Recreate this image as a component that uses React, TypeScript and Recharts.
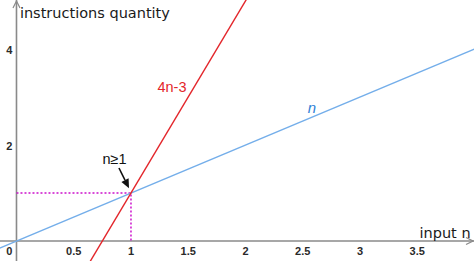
import {
  ComposedChart,
  Line,
  XAxis,
  YAxis,
  ReferenceLine,
  ReferenceDot
} from 'recharts';

document.body.style.margin = '0';

// end points (lines run past the plot edges and get clipped)
const identityPts = [
  { x: -0.2, y: -0.2 },
  { x: 4.1, y: 4.1 }
];
const fourNPts = [
  { x: 0.6, y: -0.6 },
  { x: 2.1, y: 5.4 }
];
const guidePts = [
  { x: 0, y: 1 },
  { x: 1, y: 1 },
  { x: 1, y: 0 }
];

const xTicks = [0.5, 1, 1.5, 2, 2.5, 3, 3.5];
const yTicks = [2, 4];

const AXIS = '#8a8a8a';
const RED = '#e3262b';
const BLUE = '#74aeea';
const MAGENTA = '#cc11cc';

const tickFont = { fontFamily: '"Liberation Sans", Arial, sans-serif', fontSize: 11, fontWeight: 700, fill: '#2a2a2a' };
const labelFont = { fontFamily: '"DejaVu Sans", sans-serif', fontSize: 14.5, fill: '#1a1a1a' };

function txt(text: string, style: any, dx: number, dy: number, anchor = 'middle') {
  return (p: any) => (
    <text
      x={p.cx + dx}
      y={p.cy + dy}
      textAnchor={anchor}
      dominantBaseline="central"
      style={style}
    >
      {text}
    </text>
  );
}

function axisArrow(vertical: boolean) {
  return (p: any) => {
    const { x1, y1, x2, y2 } = p;
    let tip, a, b;
    if (vertical) {
      const top = Math.min(y1, y2) + 1;
      tip = [x1, top];
      a = [x1 - 3.5, top + 7];
      b = [x1 + 3.5, top + 7];
    } else {
      const right = Math.max(x1, x2) - 1;
      tip = [right, y1];
      a = [right - 7, y1 - 3.5];
      b = [right - 7, y1 + 3.5];
    }
    return (
      <g>
        <line x1={x1} y1={y1} x2={x2} y2={y2} stroke={AXIS} strokeWidth={1.6} />
        <polyline
          points={`${a[0]},${a[1]} ${tip[0]},${tip[1]} ${b[0]},${b[1]}`}
          fill="none"
          stroke={AXIS}
          strokeWidth={1.2}
        />
      </g>
    );
  };
}

function pointer(p: any) {
  const { x1, y1, x2, y2 } = p;
  const ang = Math.atan2(y2 - y1, x2 - x1);
  const len = 9;
  const w = 4;
  const bx = x2 - len * Math.cos(ang);
  const by = y2 - len * Math.sin(ang);
  const px = -Math.sin(ang) * w;
  const py = Math.cos(ang) * w;
  return (
    <g>
      <line x1={x1} y1={y1} x2={bx} y2={by} stroke="#111" strokeWidth={1.6} />
      <polygon points={`${x2},${y2} ${bx + px},${by + py} ${bx - px},${by - py}`} fill="#111" />
    </g>
  );
}

export default function App() {
  return (
    <ComposedChart width={474} height={261} margin={{ top: 0, right: 0, bottom: 0, left: 0 }}>
      <XAxis type="number" dataKey="x" domain={[-0.144, 3.996]} allowDataOverflow hide />
      <YAxis type="number" dataKey="y" domain={[-0.417, 5.02]} allowDataOverflow hide />

      <ReferenceLine x={0} stroke={AXIS} shape={axisArrow(true)} />
      <ReferenceLine y={0} stroke={AXIS} shape={axisArrow(false)} />

      <Line
        data={guidePts}
        dataKey="y"
        type="linear"
        stroke={MAGENTA}
        strokeWidth={1.5}
        strokeDasharray="2 2"
        dot={false}
        isAnimationActive={false}
      />
      <Line
        data={identityPts}
        dataKey="y"
        type="linear"
        stroke={BLUE}
        strokeWidth={1.4}
        dot={false}
        isAnimationActive={false}
      />
      <Line
        data={fourNPts}
        dataKey="y"
        type="linear"
        stroke={RED}
        strokeWidth={1.4}
        dot={false}
        isAnimationActive={false}
      />

      <ReferenceLine
        segment={[
          { x: 0.895, y: 1.52 },
          { x: 0.983, y: 1.1 }
        ]}
        stroke="#111"
        shape={pointer}
      />

      {xTicks.map((v) => (
        <ReferenceDot key={'x' + v} x={v} y={0} r={1} shape={txt(String(v), tickFont, 0, 10)} />
      ))}
      <ReferenceDot x={0} y={0} r={1} shape={txt('0', tickFont, -4, 10, 'end')} />
      {yTicks.map((v) => (
        <ReferenceDot key={'y' + v} x={0} y={v} r={1} shape={txt(String(v), tickFont, -4, 1, 'end')} />
      ))}

      <ReferenceDot x={0.03} y={4.75} r={1} shape={txt('instructions quantity', labelFont, 0, 0, 'start')} />
      <ReferenceDot x={3.52} y={0.17} r={1} shape={txt('input n', labelFont, 0, 0, 'start')} />
      <ReferenceDot
        x={1.358}
        y={3.21}
        r={1}
        shape={txt('4n-3', { fontFamily: '"Liberation Sans", Arial, sans-serif', fontSize: 14.5, fill: RED }, 0, 0)}
      />
      <ReferenceDot
        x={2.58}
        y={2.79}
        r={1}
        shape={txt('n', { fontFamily: '"Liberation Sans", Arial, sans-serif', fontSize: 15, fontStyle: 'italic', fill: '#2f7fd6' }, 0, 0)}
      />
      <ReferenceDot
        x={0.856}
        y={1.708}
        r={1}
        shape={txt('n≥1', { fontFamily: '"Liberation Sans", Arial, sans-serif', fontSize: 14.5, fill: '#111' }, 0, 0)}
      />
    </ComposedChart>
  );
}
